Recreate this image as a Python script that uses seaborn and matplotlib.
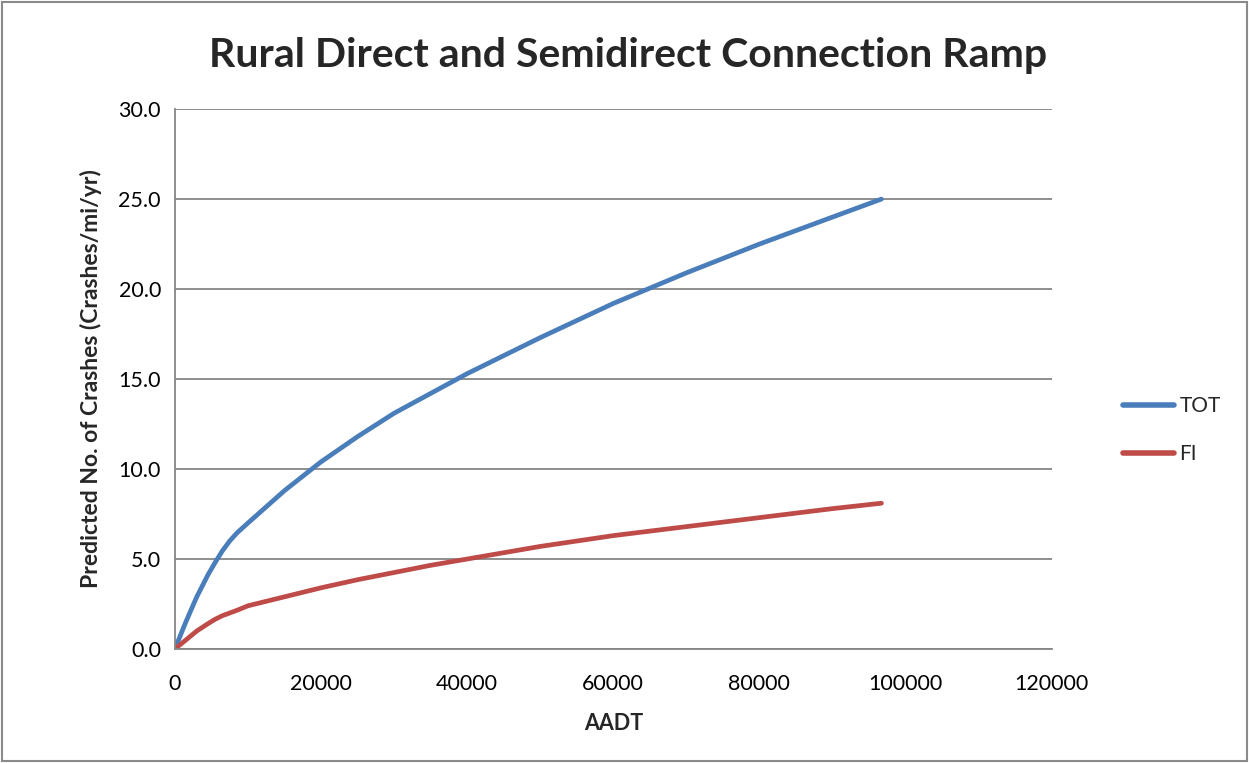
import pandas as pd
import seaborn as sns
import matplotlib.pyplot as plt
from matplotlib.patches import Rectangle

# values
aadt = [0, 1500, 3000, 4500, 5500, 6500, 7500, 8500, 10000, 12500, 15000, 20000, 25000,
        30000, 35000, 40000, 50000, 60000, 70000, 80000, 90000, 96700]
tot = [0.0, 1.5, 2.9, 4.1, 4.8, 5.45, 6.0, 6.45, 7.0, 7.9, 8.8, 10.4, 11.8,
       13.1, 14.2, 15.3, 17.3, 19.2, 20.9, 22.5, 24.0, 25.0]
fi = [0.0, 0.5, 1.0, 1.4, 1.65, 1.85, 2.0, 2.15, 2.4, 2.65, 2.9, 3.4, 3.85,
      4.25, 4.65, 5.0, 5.7, 6.3, 6.8, 7.3, 7.8, 8.1]

series_names = ['TOT', 'FI']
colors = ['#4A7EBB', '#BE4B48']

df = pd.DataFrame({
    'AADT': aadt * 2,
    'Crashes': tot + fi,
    'Series': ['TOT'] * len(aadt) + ['FI'] * len(aadt),
})

sns.set_style('white')
plt.rcParams['font.family'] = ['Lato', 'DejaVu Sans']

fig = plt.figure(figsize=(12.49, 7.63), dpi=100)
ax = fig.add_axes([0.140, 0.1494, 0.702, 0.7076])

sns.lineplot(data=df, x='AADT', y='Crashes', hue='Series', hue_order=series_names,
             palette=colors, linewidth=3.4, sort=False, ax=ax)

ax.set_xlim(0, 120000)
ax.set_ylim(0, 30)
ax.set_xticks(range(0, 120001, 20000))
ax.set_yticks([0, 5, 10, 15, 20, 25, 30])
ax.set_yticklabels([f'{v:.1f}' for v in [0, 5, 10, 15, 20, 25, 30]])
ax.grid(axis='y', color='#868686', linewidth=1.3)
ax.set_axisbelow(True)
for s in ['top', 'right']:
    ax.spines[s].set_visible(False)
for s in ['left', 'bottom']:
    ax.spines[s].set_color('#868686')
    ax.spines[s].set_linewidth(1.3)
ax.tick_params(axis='both', direction='out', length=6, width=1.3, color='#868686',
               labelsize=15.5, labelcolor='black', pad=4)
ax.tick_params(axis='x', pad=12)

ax.set_xlabel('AADT', fontsize=15.5, fontweight='bold', labelpad=14)
ax.set_ylabel('Predicted No. of Crashes (Crashes/mi/yr)', fontsize=16.5,
              fontweight='bold', labelpad=12)

fig.text(0.503, 0.927, 'Rural Direct and Semidirect Connection Ramp',
         ha='center', va='center', fontsize=29.5, fontweight='bold')

leg = ax.legend(loc='center left', bbox_to_anchor=(1.06, 0.405), frameon=False,
                fontsize=15, handlelength=2.45, handletextpad=0.25, labelspacing=1.35,
                title=None)
for line in leg.get_lines():
    line.set_linewidth(4)

fig.patches.append(Rectangle((0.002, 0.002), 0.996, 0.996, transform=fig.transFigure,
                             fill=False, edgecolor='#8a8a8a', linewidth=1.5))

fig.savefig('out.png', dpi=100)
